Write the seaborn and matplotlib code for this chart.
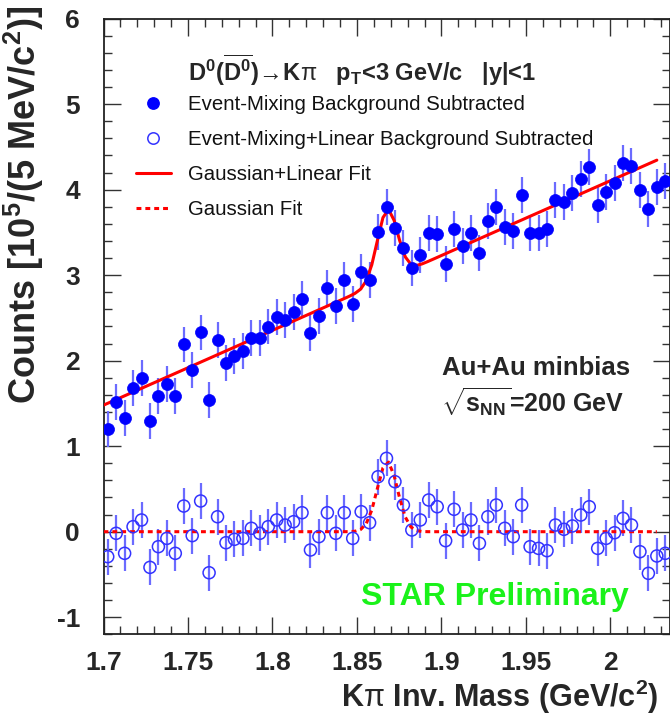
import numpy as np
import pandas as pd
import matplotlib
matplotlib.use("Agg")
import matplotlib.pyplot as plt
from matplotlib.lines import Line2D
from matplotlib.ticker import MultipleLocator, FormatStrFormatter
import seaborn as sns

# ---------------- data ----------------
bin_start = 1.7025
bin_width = 0.005
filled = [1.198, 1.513, 1.330, 1.684, 1.794, 1.295, 1.587, 1.724, 1.587, 2.190,
          1.887, 2.330, 1.536, 2.238, 1.973, 2.055, 2.113, 2.270, 2.270, 2.400,
          2.515, 2.480, 2.566, 2.718, 2.320, 2.523, 2.847, 2.643, 2.944, 2.663,
          3.040, 2.944, 3.509, 3.794, 3.548, 3.315, 3.080, 3.236, 3.497, 3.482,
          3.127, 3.537, 3.341, 3.490, 3.263, 3.637, 3.800, 3.560, 3.520, 3.938,
          3.490, 3.497, 3.537, 3.880, 3.860, 3.958, 4.122, 4.262, 3.820, 3.977,
          4.082, 4.308, 4.277, 3.996, 3.774, 4.028, 4.105]
opened = [-0.292, -0.019, -0.253, 0.059, 0.137, -0.417, -0.175, -0.078, -0.253, 0.300,
          -0.046, 0.359, -0.480, 0.175, -0.129, -0.089, -0.078, 0.040, -0.019, 0.059,
          0.137, 0.078, 0.117, 0.222, -0.214, -0.058, 0.222, -0.019, 0.222, -0.078,
          0.234, 0.105, 0.643, 0.858, 0.585, 0.312, 0.020, 0.137, 0.371, 0.292,
          -0.105, 0.262, 0.020, 0.137, -0.136, 0.175, 0.312, 0.040, -0.058, 0.312,
          -0.175, -0.195, -0.222, 0.078, 0.028, 0.067, 0.195, 0.292, -0.195, -0.078,
          -0.012, 0.156, 0.078, -0.234, -0.487, -0.284, -0.253]
err_filled = 0.21
err_open = 0.21

# fit parameters
lin_a, lin_b = 1.48, 8.75          # y = a + b*(m - 1.7)
g_amp, g_mu, g_sigma = 0.82, 1.868, 0.006
fit_lo, fit_hi, fit_npx = 1.7, 2.0275, 100

x_ticks = [1.7, 1.75, 1.8, 1.85, 1.9, 1.95, 2.0]
legend_labels = ["Event-Mixing Background Subtracted",
                 "Event-Mixing+Linear Background Subtracted",
                 "Gaussian+Linear Fit",
                 "Gaussian Fit"]

mass = bin_start + bin_width * np.arange(len(filled))
df = pd.DataFrame({"mass": mass, "filled": filled, "open": opened})

mfit = np.linspace(fit_lo, fit_hi, fit_npx)
gauss = g_amp * np.exp(-0.5 * ((mfit - g_mu) / g_sigma) ** 2)
fit_df = pd.DataFrame({"mass": mfit, "total": lin_a + lin_b * (mfit - 1.7) + gauss, "gauss": gauss})

# ---------------- style ----------------
sns.set_theme(style="white")
plt.rcParams["font.family"] = ["Liberation Sans", "DejaVu Sans"]
plt.rcParams["mathtext.fontset"] = "custom"
plt.rcParams["mathtext.rm"] = "Liberation Sans"
plt.rcParams["mathtext.bf"] = "Liberation Sans:bold"
plt.rcParams["mathtext.it"] = "Liberation Sans:italic"

W, H = 670, 716
fig = plt.figure(figsize=(W / 100, H / 100), dpi=100)
ax = fig.add_axes([103.5 / W, 1 - 634.3 / H, (669.5 - 103.5) / W, (634.3 - 18.7) / H])

blue = (0, 0, 1)
ebar = (0.42, 0.42, 1.0)
red = (1, 0, 0)

ax.errorbar(df["mass"], df["filled"], yerr=err_filled, fmt="none", ecolor=ebar, elinewidth=1.6, zorder=2)
ax.errorbar(df["mass"], df["open"], yerr=err_open, fmt="none", ecolor=ebar, elinewidth=1.6, zorder=2)

sns.lineplot(data=fit_df, x="mass", y="total", ax=ax, color=red, lw=2.2, zorder=4, legend=False)
sns.lineplot(data=fit_df, x="mass", y="gauss", ax=ax, color=red, lw=2.2, zorder=4, legend=False)
ax.lines[-1].set_linestyle((0, (1.6, 1.3)))

sns.scatterplot(data=df, x="mass", y="filled", ax=ax, s=75, color=blue, edgecolor=blue, linewidth=0.5, zorder=5, legend=False)
sns.scatterplot(data=df, x="mass", y="open", ax=ax, s=75, facecolor="none", edgecolor=(0.2, 0.2, 1.0), linewidth=1.1, zorder=5, legend=False)

ax.set_xlim(1.7, 2.035)
ax.set_ylim(-1.2, 6)
ax.set_xlabel("")
ax.set_ylabel("")

ax.xaxis.set_major_locator(MultipleLocator(0.05))
ax.xaxis.set_minor_locator(MultipleLocator(0.01))
ax.yaxis.set_major_locator(MultipleLocator(1))
ax.yaxis.set_minor_locator(MultipleLocator(0.2))
ax.set_xticks(x_ticks)
ax.xaxis.set_major_formatter(FormatStrFormatter("%g"))
ax.yaxis.set_major_formatter(FormatStrFormatter("%g"))
ax.tick_params(which="both", direction="in", top=True, right=True, bottom=True, left=True,
               color="#333333", width=1.0)
ax.tick_params(which="major", length=12.5)
ax.tick_params(which="minor", length=6)
ax.tick_params(axis="x", which="major", labelsize=19, pad=12)
ax.tick_params(axis="y", which="major", labelsize=19, pad=17)
for lab in ax.get_xticklabels() + ax.get_yticklabels():
    lab.set_fontweight("bold")
for sp in ax.spines.values():
    sp.set_color("#222222")
    sp.set_linewidth(1.3)

# axis titles
fig.text(659 / W, 1 - 697 / H, r"K$\mathrm{\pi}$ Inv. Mass (GeV/c$^{\mathbf{2}}$)", ha="right", va="center",
         fontsize=22, fontweight="bold")
fig.text(24 / W, 1 - 6 / H, r"Counts [10$^{\mathbf{5}}$/(5 MeV/c$^{\mathbf{2}}$)]", ha="center", va="top",
         rotation=90, fontsize=26, fontweight="bold")

# header / annotations
fig.text(188 / W, 1 - 70 / H,
         r"$\mathbf{D^{0}(\overline{D^{0}})}\!\rightarrow\!\mathbf{K}\mathrm{\pi}$   $\mathbf{p_{T}}$<3 GeV/c   |y|<1",
         ha="left", va="center", fontsize=17, fontweight="bold")
fig.text(536 / W, 1 - 368 / H, "Au+Au minbias", ha="center", va="center", fontsize=18.5, fontweight="bold")
fig.text(533 / W, 1 - 402 / H, r"$\sqrt{\mathbf{s_{NN}}}$=200 GeV", ha="center", va="center",
         fontsize=18, fontweight="bold")
fig.text(495 / W, 1 - 597 / H, "STAR Preliminary", ha="center", va="center", fontsize=23,
         fontweight="bold", color=(0.1, 0.95, 0.1))

# legend
handles = [
    Line2D([], [], ls="none", marker="o", ms=8.2, mfc=blue, mec=blue),
    Line2D([], [], ls="none", marker="o", ms=8.2, mfc="none", mec=(0.2, 0.2, 1.0), mew=1.1),
    Line2D([], [], color=red, lw=2.2),
    Line2D([], [], color=red, lw=2.2, ls=(0, (1.6, 1.3))),
]
leg = ax.legend(handles, legend_labels, loc="upper left",
                bbox_to_anchor=((136 - 103.5) / 566, 1 - (95 - 18.7) / 615.6),
                frameon=False, fontsize=14.7, handlelength=1.71, handletextpad=0.83, labelspacing=0.78,
                borderpad=0, borderaxespad=0)
for t in leg.get_texts():
    t.set_color("#111111")

fig.savefig("out.png", dpi=100)
